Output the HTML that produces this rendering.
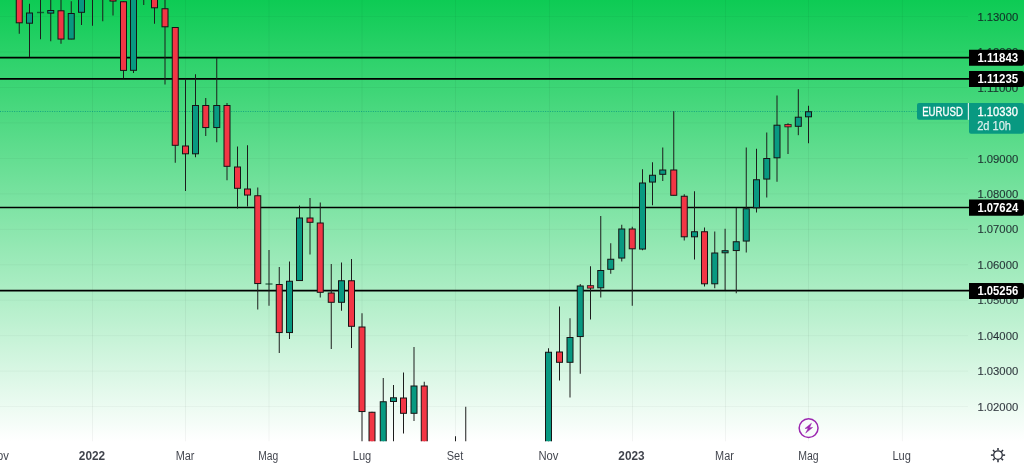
<!DOCTYPE html>
<html><head><meta charset="utf-8"><title>EURUSD</title>
<style>
html,body{margin:0;padding:0;background:#fff;}
body{width:1024px;height:465px;overflow:hidden;font-family:"Liberation Sans",sans-serif;}
svg{display:block;will-change:transform;font-family:"Liberation Sans",sans-serif;font-size:12px;}
</style></head><body>
<svg width="1024" height="465" viewBox="0 0 1024 465">
<defs>
<linearGradient id="bg" x1="0" y1="0" x2="0" y2="1">
<stop offset="0" stop-color="#0dcb54"/>
<stop offset="1" stop-color="#ffffff"/>
</linearGradient>
<clipPath id="cp"><rect x="0" y="0" width="1024" height="441.3"/></clipPath>
</defs>
<rect x="0" y="0" width="1024" height="465" fill="#ffffff"/>
<rect x="0" y="0" width="1024" height="441.3" fill="url(#bg)"/>

<g stroke="#000" stroke-opacity="0.042" stroke-width="1">
<line x1="92.50" y1="0" x2="92.50" y2="441.3"/>
<line x1="185.50" y1="0" x2="185.50" y2="441.3"/>
<line x1="269.00" y1="0" x2="269.00" y2="441.3"/>
<line x1="362.00" y1="0" x2="362.00" y2="441.3"/>
<line x1="455.50" y1="0" x2="455.50" y2="441.3"/>
<line x1="549.50" y1="0" x2="549.50" y2="441.3"/>
<line x1="632.50" y1="0" x2="632.50" y2="441.3"/>
<line x1="725.50" y1="0" x2="725.50" y2="441.3"/>
<line x1="808.50" y1="0" x2="808.50" y2="441.3"/>
<line x1="902.40" y1="0" x2="902.40" y2="441.3"/>
<line x1="0" y1="16.60" x2="968" y2="16.60" stroke-opacity="0.035"/>
<line x1="0" y1="52.05" x2="968" y2="52.05" stroke-opacity="0.035"/>
<line x1="0" y1="87.50" x2="968" y2="87.50" stroke-opacity="0.035"/>
<line x1="0" y1="122.95" x2="968" y2="122.95" stroke-opacity="0.035"/>
<line x1="0" y1="158.40" x2="968" y2="158.40" stroke-opacity="0.035"/>
<line x1="0" y1="193.85" x2="968" y2="193.85" stroke-opacity="0.035"/>
<line x1="0" y1="229.30" x2="968" y2="229.30" stroke-opacity="0.035"/>
<line x1="0" y1="264.75" x2="968" y2="264.75" stroke-opacity="0.035"/>
<line x1="0" y1="300.20" x2="968" y2="300.20" stroke-opacity="0.035"/>
<line x1="0" y1="335.65" x2="968" y2="335.65" stroke-opacity="0.035"/>
<line x1="0" y1="371.10" x2="968" y2="371.10" stroke-opacity="0.035"/>
<line x1="0" y1="406.55" x2="968" y2="406.55" stroke-opacity="0.035"/>
</g>
<line x1="0" y1="111.5" x2="917" y2="111.5" stroke="#089981" stroke-width="1" stroke-dasharray="1 1.36" stroke-opacity="0.8"/>
<line x1="0" y1="57.60" x2="970" y2="57.60" stroke="#000" stroke-width="1.7"/>
<line x1="0" y1="78.85" x2="970" y2="78.85" stroke="#000" stroke-width="1.7"/>
<line x1="0" y1="207.50" x2="970" y2="207.50" stroke="#000" stroke-width="1.7"/>
<line x1="0" y1="290.70" x2="970" y2="290.70" stroke="#000" stroke-width="1.7"/>
<g clip-path="url(#cp)">
<line x1="19.25" y1="-5.00" x2="19.25" y2="33.75" stroke="#1c1c1c" stroke-width="1"/>
<rect x="16.25" y="-4.50" width="6" height="27.30" fill="#f23645" stroke="#151515" stroke-width="1"/>
<line x1="29.50" y1="3.75" x2="29.50" y2="57.00" stroke="#1c1c1c" stroke-width="1"/>
<rect x="26.50" y="13.00" width="6" height="10.20" fill="#089981" stroke="#151515" stroke-width="1"/>
<line x1="40.50" y1="-5.00" x2="40.50" y2="39.25" stroke="#1c1c1c" stroke-width="1"/>
<rect x="37.00" y="11.80" width="7" height="1.4" fill="#06351f" fill-opacity="0.7"/>
<line x1="50.75" y1="-5.00" x2="50.75" y2="41.25" stroke="#1c1c1c" stroke-width="1"/>
<rect x="47.75" y="10.50" width="6" height="2.60" fill="#089981" stroke="#151515" stroke-width="1"/>
<line x1="61.00" y1="-5.00" x2="61.00" y2="43.75" stroke="#1c1c1c" stroke-width="1"/>
<rect x="58.00" y="10.80" width="6" height="28.25" fill="#f23645" stroke="#151515" stroke-width="1"/>
<line x1="71.25" y1="1.25" x2="71.25" y2="39.25" stroke="#1c1c1c" stroke-width="1"/>
<rect x="68.25" y="13.50" width="6" height="25.55" fill="#089981" stroke="#151515" stroke-width="1"/>
<line x1="81.50" y1="-5.00" x2="81.50" y2="25.00" stroke="#1c1c1c" stroke-width="1"/>
<rect x="78.50" y="-4.50" width="6" height="16.80" fill="#089981" stroke="#151515" stroke-width="1"/>
<line x1="92.50" y1="-5.00" x2="92.50" y2="25.75" stroke="#1c1c1c" stroke-width="1"/>
<line x1="102.75" y1="-5.00" x2="102.75" y2="21.25" stroke="#1c1c1c" stroke-width="1"/>
<line x1="113.00" y1="-5.00" x2="113.00" y2="15.50" stroke="#1c1c1c" stroke-width="1"/>
<rect x="110.00" y="-4.50" width="6" height="5.55" fill="#f23645" stroke="#151515" stroke-width="1"/>
<line x1="123.50" y1="1.25" x2="123.50" y2="78.25" stroke="#1c1c1c" stroke-width="1"/>
<rect x="120.50" y="1.75" width="6" height="68.65" fill="#f23645" stroke="#151515" stroke-width="1"/>
<line x1="133.50" y1="-5.00" x2="133.50" y2="73.00" stroke="#1c1c1c" stroke-width="1"/>
<rect x="130.50" y="-4.50" width="6" height="74.80" fill="#089981" stroke="#151515" stroke-width="1"/>
<line x1="143.75" y1="-5.00" x2="143.75" y2="5.00" stroke="#1c1c1c" stroke-width="1"/>
<line x1="154.50" y1="-5.00" x2="154.50" y2="23.75" stroke="#1c1c1c" stroke-width="1"/>
<rect x="151.50" y="-4.50" width="6" height="12.30" fill="#f23645" stroke="#151515" stroke-width="1"/>
<line x1="165.00" y1="-5.00" x2="165.00" y2="84.50" stroke="#1c1c1c" stroke-width="1"/>
<rect x="162.00" y="8.75" width="6" height="18.05" fill="#f23645" stroke="#151515" stroke-width="1"/>
<line x1="175.25" y1="27.00" x2="175.25" y2="162.75" stroke="#1c1c1c" stroke-width="1"/>
<rect x="172.25" y="27.50" width="6" height="117.80" fill="#f23645" stroke="#151515" stroke-width="1"/>
<line x1="185.50" y1="78.75" x2="185.50" y2="191.00" stroke="#1c1c1c" stroke-width="1"/>
<rect x="182.50" y="146.00" width="6" height="7.80" fill="#f23645" stroke="#151515" stroke-width="1"/>
<line x1="195.50" y1="74.25" x2="195.50" y2="157.25" stroke="#1c1c1c" stroke-width="1"/>
<rect x="192.50" y="105.50" width="6" height="48.30" fill="#089981" stroke="#151515" stroke-width="1"/>
<line x1="205.75" y1="98.00" x2="205.75" y2="136.00" stroke="#1c1c1c" stroke-width="1"/>
<rect x="202.75" y="105.50" width="6" height="22.05" fill="#f23645" stroke="#151515" stroke-width="1"/>
<line x1="216.75" y1="58.00" x2="216.75" y2="142.25" stroke="#1c1c1c" stroke-width="1"/>
<rect x="213.75" y="105.50" width="6" height="22.05" fill="#089981" stroke="#151515" stroke-width="1"/>
<line x1="227.00" y1="103.00" x2="227.00" y2="180.25" stroke="#1c1c1c" stroke-width="1"/>
<rect x="224.00" y="105.50" width="6" height="60.80" fill="#f23645" stroke="#151515" stroke-width="1"/>
<line x1="237.50" y1="146.50" x2="237.50" y2="208.50" stroke="#1c1c1c" stroke-width="1"/>
<rect x="234.50" y="167.00" width="6" height="21.30" fill="#f23645" stroke="#151515" stroke-width="1"/>
<line x1="247.50" y1="145.25" x2="247.50" y2="206.50" stroke="#1c1c1c" stroke-width="1"/>
<rect x="244.50" y="189.00" width="6" height="6.05" fill="#f23645" stroke="#151515" stroke-width="1"/>
<line x1="257.75" y1="187.50" x2="257.75" y2="309.50" stroke="#1c1c1c" stroke-width="1"/>
<rect x="254.75" y="195.75" width="6" height="87.80" fill="#f23645" stroke="#151515" stroke-width="1"/>
<line x1="269.00" y1="250.00" x2="269.00" y2="305.75" stroke="#1c1c1c" stroke-width="1"/>
<rect x="265.50" y="283.30" width="7" height="1.4" fill="#06351f" fill-opacity="0.7"/>
<line x1="279.25" y1="267.00" x2="279.25" y2="353.00" stroke="#1c1c1c" stroke-width="1"/>
<rect x="276.25" y="284.50" width="6" height="48.05" fill="#f23645" stroke="#151515" stroke-width="1"/>
<line x1="289.50" y1="261.50" x2="289.50" y2="339.00" stroke="#1c1c1c" stroke-width="1"/>
<rect x="286.50" y="281.25" width="6" height="51.30" fill="#089981" stroke="#151515" stroke-width="1"/>
<line x1="299.50" y1="205.50" x2="299.50" y2="280.75" stroke="#1c1c1c" stroke-width="1"/>
<rect x="296.50" y="218.00" width="6" height="62.55" fill="#089981" stroke="#151515" stroke-width="1"/>
<line x1="310.00" y1="198.00" x2="310.00" y2="254.50" stroke="#1c1c1c" stroke-width="1"/>
<rect x="307.00" y="218.00" width="6" height="4.30" fill="#f23645" stroke="#151515" stroke-width="1"/>
<line x1="320.25" y1="202.50" x2="320.25" y2="297.50" stroke="#1c1c1c" stroke-width="1"/>
<rect x="317.25" y="223.00" width="6" height="69.30" fill="#f23645" stroke="#151515" stroke-width="1"/>
<line x1="331.25" y1="264.00" x2="331.25" y2="349.00" stroke="#1c1c1c" stroke-width="1"/>
<rect x="328.25" y="293.00" width="6" height="9.30" fill="#f23645" stroke="#151515" stroke-width="1"/>
<line x1="341.50" y1="262.50" x2="341.50" y2="310.75" stroke="#1c1c1c" stroke-width="1"/>
<rect x="338.50" y="280.75" width="6" height="21.55" fill="#089981" stroke="#151515" stroke-width="1"/>
<line x1="351.50" y1="259.00" x2="351.50" y2="348.00" stroke="#1c1c1c" stroke-width="1"/>
<rect x="348.50" y="280.75" width="6" height="45.55" fill="#f23645" stroke="#151515" stroke-width="1"/>
<line x1="362.00" y1="313.25" x2="362.00" y2="450.00" stroke="#1c1c1c" stroke-width="1"/>
<rect x="359.00" y="327.00" width="6" height="84.55" fill="#f23645" stroke="#151515" stroke-width="1"/>
<line x1="372.00" y1="411.75" x2="372.00" y2="450.00" stroke="#1c1c1c" stroke-width="1"/>
<rect x="369.00" y="412.25" width="6" height="37.55" fill="#f23645" stroke="#151515" stroke-width="1"/>
<line x1="383.25" y1="378.00" x2="383.25" y2="450.00" stroke="#1c1c1c" stroke-width="1"/>
<rect x="380.25" y="401.75" width="6" height="48.05" fill="#089981" stroke="#151515" stroke-width="1"/>
<line x1="393.50" y1="385.00" x2="393.50" y2="450.00" stroke="#1c1c1c" stroke-width="1"/>
<rect x="390.50" y="397.80" width="6" height="3.70" fill="#089981" stroke="#151515" stroke-width="1"/>
<line x1="403.50" y1="372.50" x2="403.50" y2="433.50" stroke="#1c1c1c" stroke-width="1"/>
<rect x="400.50" y="398.00" width="6" height="15.30" fill="#f23645" stroke="#151515" stroke-width="1"/>
<line x1="414.00" y1="347.00" x2="414.00" y2="421.00" stroke="#1c1c1c" stroke-width="1"/>
<rect x="411.00" y="386.00" width="6" height="27.30" fill="#089981" stroke="#151515" stroke-width="1"/>
<line x1="424.25" y1="381.75" x2="424.25" y2="450.00" stroke="#1c1c1c" stroke-width="1"/>
<rect x="421.25" y="386.00" width="6" height="63.80" fill="#f23645" stroke="#151515" stroke-width="1"/>
<line x1="455.50" y1="436.25" x2="455.50" y2="450.00" stroke="#1c1c1c" stroke-width="1"/>
<line x1="465.75" y1="406.75" x2="465.75" y2="450.00" stroke="#1c1c1c" stroke-width="1"/>
<line x1="548.50" y1="348.25" x2="548.50" y2="450.00" stroke="#1c1c1c" stroke-width="1"/>
<rect x="545.50" y="352.25" width="6" height="97.55" fill="#089981" stroke="#151515" stroke-width="1"/>
<line x1="559.50" y1="306.50" x2="559.50" y2="380.50" stroke="#1c1c1c" stroke-width="1"/>
<rect x="556.50" y="352.00" width="6" height="10.30" fill="#f23645" stroke="#151515" stroke-width="1"/>
<line x1="570.00" y1="318.25" x2="570.00" y2="397.50" stroke="#1c1c1c" stroke-width="1"/>
<rect x="567.00" y="337.50" width="6" height="24.80" fill="#089981" stroke="#151515" stroke-width="1"/>
<line x1="580.25" y1="284.00" x2="580.25" y2="373.75" stroke="#1c1c1c" stroke-width="1"/>
<rect x="577.25" y="286.00" width="6" height="50.55" fill="#089981" stroke="#151515" stroke-width="1"/>
<line x1="590.50" y1="266.25" x2="590.50" y2="319.50" stroke="#1c1c1c" stroke-width="1"/>
<rect x="587.35" y="285.65" width="6.3" height="2.50" fill="#f23645" stroke="#151515" stroke-width="0.85" stroke-opacity="0.9"/>
<line x1="600.75" y1="216.00" x2="600.75" y2="297.50" stroke="#1c1c1c" stroke-width="1"/>
<rect x="597.75" y="270.50" width="6" height="17.30" fill="#089981" stroke="#151515" stroke-width="1"/>
<line x1="610.75" y1="243.25" x2="610.75" y2="273.75" stroke="#1c1c1c" stroke-width="1"/>
<rect x="607.75" y="259.25" width="6" height="10.05" fill="#089981" stroke="#151515" stroke-width="1"/>
<line x1="621.75" y1="224.75" x2="621.75" y2="261.50" stroke="#1c1c1c" stroke-width="1"/>
<rect x="618.75" y="229.00" width="6" height="29.05" fill="#089981" stroke="#151515" stroke-width="1"/>
<line x1="632.25" y1="226.75" x2="632.25" y2="305.75" stroke="#1c1c1c" stroke-width="1"/>
<rect x="629.25" y="229.00" width="6" height="19.80" fill="#f23645" stroke="#151515" stroke-width="1"/>
<line x1="642.50" y1="169.25" x2="642.50" y2="250.25" stroke="#1c1c1c" stroke-width="1"/>
<rect x="639.50" y="183.00" width="6" height="66.05" fill="#089981" stroke="#151515" stroke-width="1"/>
<line x1="652.50" y1="162.25" x2="652.50" y2="205.25" stroke="#1c1c1c" stroke-width="1"/>
<rect x="649.50" y="175.25" width="6" height="6.80" fill="#089981" stroke="#151515" stroke-width="1"/>
<line x1="662.75" y1="147.50" x2="662.75" y2="181.00" stroke="#1c1c1c" stroke-width="1"/>
<rect x="659.75" y="170.00" width="6" height="4.30" fill="#089981" stroke="#151515" stroke-width="1"/>
<line x1="673.75" y1="111.25" x2="673.75" y2="195.50" stroke="#1c1c1c" stroke-width="1"/>
<rect x="670.75" y="170.00" width="6" height="25.30" fill="#f23645" stroke="#151515" stroke-width="1"/>
<line x1="684.25" y1="194.25" x2="684.25" y2="240.50" stroke="#1c1c1c" stroke-width="1"/>
<rect x="681.25" y="196.25" width="6" height="40.55" fill="#f23645" stroke="#151515" stroke-width="1"/>
<line x1="694.50" y1="191.25" x2="694.50" y2="259.50" stroke="#1c1c1c" stroke-width="1"/>
<rect x="691.50" y="231.75" width="6" height="5.05" fill="#089981" stroke="#151515" stroke-width="1"/>
<line x1="704.50" y1="227.50" x2="704.50" y2="286.50" stroke="#1c1c1c" stroke-width="1"/>
<rect x="701.50" y="231.75" width="6" height="52.05" fill="#f23645" stroke="#151515" stroke-width="1"/>
<line x1="714.75" y1="231.50" x2="714.75" y2="288.25" stroke="#1c1c1c" stroke-width="1"/>
<rect x="711.75" y="253.00" width="6" height="30.80" fill="#089981" stroke="#151515" stroke-width="1"/>
<line x1="725.10" y1="228.75" x2="725.10" y2="290.00" stroke="#1c1c1c" stroke-width="1"/>
<rect x="722.10" y="250.70" width="6" height="2.10" fill="#089981" stroke="#151515" stroke-width="1"/>
<line x1="736.25" y1="208.00" x2="736.25" y2="293.25" stroke="#1c1c1c" stroke-width="1"/>
<rect x="733.25" y="241.75" width="6" height="8.80" fill="#089981" stroke="#151515" stroke-width="1"/>
<line x1="746.25" y1="147.50" x2="746.25" y2="252.50" stroke="#1c1c1c" stroke-width="1"/>
<rect x="743.25" y="208.75" width="6" height="32.30" fill="#089981" stroke="#151515" stroke-width="1"/>
<line x1="756.50" y1="148.75" x2="756.50" y2="212.50" stroke="#1c1c1c" stroke-width="1"/>
<rect x="753.50" y="179.75" width="6" height="28.05" fill="#089981" stroke="#151515" stroke-width="1"/>
<line x1="766.75" y1="132.50" x2="766.75" y2="197.50" stroke="#1c1c1c" stroke-width="1"/>
<rect x="763.75" y="158.50" width="6" height="20.55" fill="#089981" stroke="#151515" stroke-width="1"/>
<line x1="777.00" y1="95.50" x2="777.00" y2="181.75" stroke="#1c1c1c" stroke-width="1"/>
<rect x="774.00" y="125.20" width="6" height="32.60" fill="#089981" stroke="#151515" stroke-width="1"/>
<line x1="788.00" y1="123.25" x2="788.00" y2="154.00" stroke="#1c1c1c" stroke-width="1"/>
<rect x="784.85" y="124.55" width="6.3" height="2.30" fill="#f23645" stroke="#151515" stroke-width="0.85" stroke-opacity="0.9"/>
<line x1="798.30" y1="89.25" x2="798.30" y2="135.20" stroke="#1c1c1c" stroke-width="1"/>
<rect x="795.30" y="117.20" width="6" height="9.10" fill="#089981" stroke="#151515" stroke-width="1"/>
<line x1="808.50" y1="105.75" x2="808.50" y2="143.25" stroke="#1c1c1c" stroke-width="1"/>
<rect x="805.50" y="111.75" width="6" height="5.05" fill="#089981" stroke="#151515" stroke-width="1"/>
</g>
<g fill="#131722" fill-opacity="0.85" stroke="#131722" stroke-width="0.12" stroke-opacity="0.85" font-size="11.6">
<text x="977.4" y="20.70" textLength="40.8" lengthAdjust="spacingAndGlyphs">1.13000</text>
<text x="977.4" y="56.15" textLength="40.8" lengthAdjust="spacingAndGlyphs">1.12000</text>
<text x="977.4" y="91.60" textLength="40.8" lengthAdjust="spacingAndGlyphs">1.11000</text>
<text x="977.4" y="162.50" textLength="40.8" lengthAdjust="spacingAndGlyphs">1.09000</text>
<text x="977.4" y="197.95" textLength="40.8" lengthAdjust="spacingAndGlyphs">1.08000</text>
<text x="977.4" y="233.40" textLength="40.8" lengthAdjust="spacingAndGlyphs">1.07000</text>
<text x="977.4" y="268.85" textLength="40.8" lengthAdjust="spacingAndGlyphs">1.06000</text>
<text x="977.4" y="304.30" textLength="40.8" lengthAdjust="spacingAndGlyphs">1.05000</text>
<text x="977.4" y="339.75" textLength="40.8" lengthAdjust="spacingAndGlyphs">1.04000</text>
<text x="977.4" y="375.20" textLength="40.8" lengthAdjust="spacingAndGlyphs">1.03000</text>
<text x="977.4" y="410.65" textLength="40.8" lengthAdjust="spacingAndGlyphs">1.02000</text>
</g>
<path d="M969,49.70 H1022 Q1024,49.70 1024,51.70 V63.80 Q1024,65.80 1022,65.80 H969 Z" fill="#000"/>
<text x="977.4" y="61.95" textLength="40.8" lengthAdjust="spacingAndGlyphs" fill="#fff" font-weight="bold">1.11843</text>
<path d="M969,71.00 H1022 Q1024,71.00 1024,73.00 V85.00 Q1024,87.00 1022,87.00 H969 Z" fill="#000"/>
<text x="977.4" y="83.20" textLength="40.8" lengthAdjust="spacingAndGlyphs" fill="#fff" font-weight="bold">1.11235</text>
<path d="M969,199.50 H1022 Q1024,199.50 1024,201.50 V213.80 Q1024,215.80 1022,215.80 H969 Z" fill="#000"/>
<text x="977.4" y="211.85" textLength="40.8" lengthAdjust="spacingAndGlyphs" fill="#fff" font-weight="bold">1.07624</text>
<path d="M969,283.00 H1022 Q1024,283.00 1024,285.00 V296.90 Q1024,298.90 1022,298.90 H969 Z" fill="#000"/>
<text x="977.4" y="295.15" textLength="40.8" lengthAdjust="spacingAndGlyphs" fill="#fff" font-weight="bold">1.05256</text>
<path d="M919,103.1 H968 V119.8 H919 Q917,119.8 917,117.8 V105.1 Q917,103.1 919,103.1 Z" fill="#089981"/>
<path d="M969,103.1 H1022 Q1024,103.1 1024,105.1 V131.8 Q1024,133.8 1022,133.8 H971 Q969,133.8 969,131.8 Z" fill="#089981"/>
<rect x="967.8" y="103.1" width="1.2" height="16.7" fill="#d8efe9"/>
<text x="922.2" y="115.7" textLength="40.7" lengthAdjust="spacingAndGlyphs" fill="#fff" stroke="#fff" stroke-width="0.3">EURUSD</text>
<text x="977.5" y="115.7" textLength="40.4" lengthAdjust="spacingAndGlyphs" fill="#fff" stroke="#fff" stroke-width="0.3">1.10330</text>
<text x="977.2" y="130.1" textLength="33.8" lengthAdjust="spacingAndGlyphs" fill="#fff" fill-opacity="0.8" stroke="#fff" stroke-width="0.25" stroke-opacity="0.8">2d 10h</text>
<text x="-11.00" y="459.5" textLength="20.0" lengthAdjust="spacingAndGlyphs" fill="#131722" fill-opacity="0.82">Nov</text>
<text x="78.85" y="459.5" textLength="26.3" lengthAdjust="spacingAndGlyphs" fill="#131722" fill-opacity="0.82" font-weight="bold">2022</text>
<text x="175.70" y="459.5" textLength="18.8" lengthAdjust="spacingAndGlyphs" fill="#131722" fill-opacity="0.82">Mar</text>
<text x="258.20" y="459.5" textLength="20.0" lengthAdjust="spacingAndGlyphs" fill="#131722" fill-opacity="0.82">Mag</text>
<text x="352.75" y="459.5" textLength="18.5" lengthAdjust="spacingAndGlyphs" fill="#131722" fill-opacity="0.82">Lug</text>
<text x="446.75" y="459.5" textLength="16.5" lengthAdjust="spacingAndGlyphs" fill="#131722" fill-opacity="0.82">Set</text>
<text x="538.50" y="459.5" textLength="20.0" lengthAdjust="spacingAndGlyphs" fill="#131722" fill-opacity="0.82">Nov</text>
<text x="618.35" y="459.5" textLength="26.3" lengthAdjust="spacingAndGlyphs" fill="#131722" fill-opacity="0.82" font-weight="bold">2023</text>
<text x="715.10" y="459.5" textLength="18.8" lengthAdjust="spacingAndGlyphs" fill="#131722" fill-opacity="0.82">Mar</text>
<text x="798.20" y="459.5" textLength="20.4" lengthAdjust="spacingAndGlyphs" fill="#131722" fill-opacity="0.82">Mag</text>
<text x="892.45" y="459.5" textLength="18.5" lengthAdjust="spacingAndGlyphs" fill="#131722" fill-opacity="0.82">Lug</text>
<circle cx="808.6" cy="428.1" r="9.45" fill="#f8fdfa" stroke="#9c27b0" stroke-width="1.5"/>
<path d="M811.46,423.22 L805.02,428.47 L808.27,428.27 L805.69,433.11 L812.60,427.44 L809.51,427.75 Z" fill="#9c27b0" stroke="#9c27b0" stroke-width="0.5" stroke-linejoin="round"/>
<circle cx="998.00" cy="455.10" r="4.3" fill="none" stroke="#2a2e39" stroke-width="1.3"/>
<line x1="998.00" y1="459.90" x2="998.00" y2="462.20" stroke="#2a2e39" stroke-width="1.5"/>
<line x1="994.61" y1="458.49" x2="992.98" y2="460.12" stroke="#2a2e39" stroke-width="1.5"/>
<line x1="993.20" y1="455.10" x2="990.90" y2="455.10" stroke="#2a2e39" stroke-width="1.5"/>
<line x1="994.61" y1="451.71" x2="992.98" y2="450.08" stroke="#2a2e39" stroke-width="1.5"/>
<line x1="998.00" y1="450.30" x2="998.00" y2="448.00" stroke="#2a2e39" stroke-width="1.5"/>
<line x1="1001.39" y1="451.71" x2="1003.02" y2="450.08" stroke="#2a2e39" stroke-width="1.5"/>
<line x1="1002.80" y1="455.10" x2="1005.10" y2="455.10" stroke="#2a2e39" stroke-width="1.5"/>
<line x1="1001.39" y1="458.49" x2="1003.02" y2="460.12" stroke="#2a2e39" stroke-width="1.5"/>
</svg></body></html>
